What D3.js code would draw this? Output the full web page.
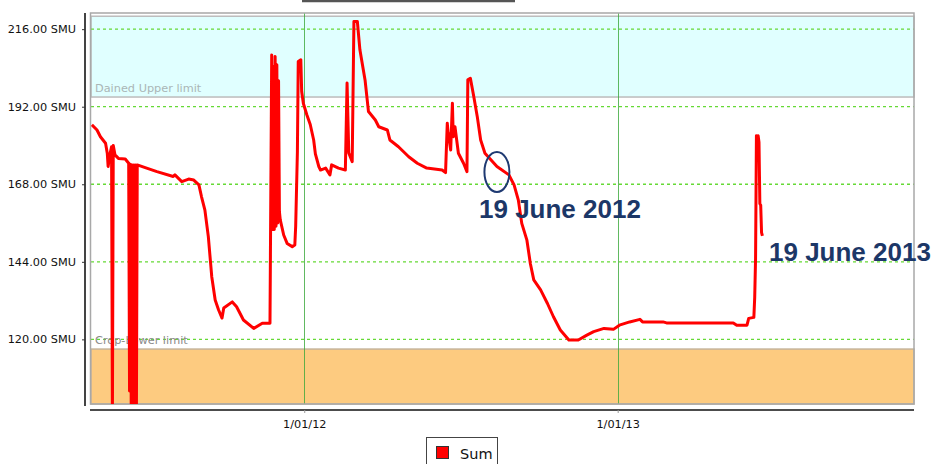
<html>
<head>
<meta charset="utf-8">
<script src="https://d3js.org/d3.v7.min.js"></script>
<style>
  body { margin: 0; background: #fff; }
  text { font-family: "DejaVu Sans", Verdana, sans-serif; }
  text.note { font-family: "Liberation Sans", Arial, sans-serif; font-weight: bold; }
</style>
</head>
<body></body>
<script>
// series: date / sum (SMU)
const dates = [
  "2011-04-28","2011-05-04","2011-05-08","2011-05-14","2011-05-16","2011-05-17","2011-05-19","2011-05-21",
  "2011-05-22","2011-05-23","2011-05-25","2011-05-29","2011-06-06","2011-06-10","2011-06-11","2011-06-12",
  "2011-06-13","2011-06-14","2011-06-15","2011-06-16","2011-06-17","2011-06-18","2011-06-19","2011-06-20",
  "2011-07-01","2011-07-13","2011-08-01","2011-08-03","2011-08-11","2011-08-19","2011-08-25","2011-08-31",
  "2011-09-03","2011-09-07","2011-09-11","2011-09-15","2011-09-19","2011-09-23","2011-09-27","2011-09-29",
  "2011-10-09","2011-10-14","2011-10-22","2011-11-03","2011-11-13","2011-11-22","2011-11-24","2011-11-25",
  "2011-11-26","2011-11-27","2011-11-28","2011-11-29","2011-11-30","2011-12-01","2011-12-02","2011-12-03",
  "2011-12-04","2011-12-08","2011-12-12","2011-12-18","2011-12-21","2011-12-22","2011-12-24","2011-12-25",
  "2011-12-28","2011-12-29","2011-12-31","2012-01-04","2012-01-08","2012-01-12","2012-01-14","2012-01-18",
  "2012-01-20","2012-01-26","2012-01-31","2012-02-02","2012-02-10","2012-02-18","2012-02-20","2012-02-22",
  "2012-02-26","2012-02-28","2012-03-03","2012-03-06","2012-03-12","2012-03-16","2012-03-24","2012-03-28",
  "2012-04-07","2012-04-10","2012-04-20","2012-05-02","2012-05-12","2012-05-23","2012-06-10","2012-06-14",
  "2012-06-16","2012-06-17","2012-06-20","2012-06-22","2012-06-23","2012-06-25","2012-06-29","2012-07-05",
  "2012-07-09","2012-07-10","2012-07-13","2012-07-17","2012-07-21","2012-07-25","2012-07-30","2012-08-13",
  "2012-08-27","2012-09-02","2012-09-07","2012-09-11","2012-09-17","2012-09-21","2012-09-25","2012-10-03",
  "2012-10-11","2012-10-18","2012-10-26","2012-11-05","2012-11-16","2012-11-26","2012-12-04","2012-12-16",
  "2012-12-27","2013-01-03","2013-01-15","2013-01-27","2013-01-30","2013-02-23","2013-02-27","2013-05-16",
  "2013-05-20","2013-06-01","2013-06-03","2013-06-09","2013-06-10","2013-06-11","2013-06-12","2013-06-13",
  "2013-06-14","2013-06-15","2013-06-16","2013-06-17","2013-06-18","2013-06-19"
];
const sums = [
  186.4,184.8,182.7,180.7,177.6,173.5,177.1,179.6,
  96,180,177.1,176,175.8,174.5,104,174.2,
  95,174,95,174,95,174,95,174,
  173,171.9,170.4,170.9,168.8,169.6,169.3,167.8,
  164.2,160,151.8,139.4,132.2,129.1,126.6,129.7,
  131.6,130.1,126,123.4,125,125,208,154,
  204.4,154,207.5,155,205,156,200,159.5,
  157,152.3,149.7,148.7,149.2,155,178,206,
  206.5,196.7,193,189.5,186.5,181.7,177.4,173.5,
  172.4,173,170.9,174,173,172.4,199.3,177.7,
  175,218.4,218.4,209.6,200.3,190.5,187.9,185.8,
  184.8,181.7,179.6,176.5,174.5,173,172.4,171.6,
  186.9,184,178.6,193.1,182.7,185.8,177.6,174.5,
  171.9,200.3,200.8,195.1,189,181.7,177.6,173.5,
  170.9,167.8,163.1,155.9,150.7,143.5,138.4,135.3,
  131.1,127,122.9,119.8,119.8,121.3,122.4,123.4,
  123.1,124.4,125.4,126.2,125.4,125.4,125.1,125.1,
  124.4,124.4,126.5,126.8,133,145,183,181.5,
  183,181,162,161.5,153,152
];
const yTicks = [120, 144, 168, 192, 216];
const xTicks = ["2012-01-01", "2013-01-01"];
const upperLimit = [195, 220];
const lowerLimit = [100, 117];
const bandLabels = ["Dained Upper limit", "Crop-Lower limit"];
const notes = [
  {text: "19 June 2012", date: "2012-08-13", value: 171.8},
  {text: "19 June 2013", date: "2013-06-19", value: 152}
];

const W = 932, H = 464;
const pLeft = 91, pRight = 914, pTop = 13, pBottom = 404;
const parse = d3.timeParse("%Y-%m-%d");

const x = d3.scaleTime()
  .domain([parse("2011-04-27"), parse("2013-12-13")])
  .range([pLeft, pRight]);
const y = d3.scaleLinear()
  .domain([100, 221])
  .range([pBottom, pTop]);

const svg = d3.select("body").append("svg")
  .attr("width", W).attr("height", H);

// cut-off title box at the very top
svg.append("line")
  .attr("x1", 302).attr("x2", 515).attr("y1", 1).attr("y2", 1)
  .attr("stroke", "#555").attr("stroke-width", 2.5);

// limit bands
svg.append("rect")
  .attr("x", pLeft).attr("width", pRight - pLeft)
  .attr("y", y(upperLimit[1])).attr("height", y(upperLimit[0]) - y(upperLimit[1]))
  .attr("fill", "#e0ffff").attr("stroke", "#bcbcbc").attr("stroke-width", 1.5);
svg.append("rect")
  .attr("x", pLeft).attr("width", pRight - pLeft)
  .attr("y", y(lowerLimit[1])).attr("height", y(lowerLimit[0]) - y(lowerLimit[1]))
  .attr("fill", "#fdcb80").attr("stroke", "#c6b49a").attr("stroke-width", 1.5);

// gridlines
svg.append("g").selectAll("line")
  .data(yTicks)
  .join("line")
    .attr("x1", pLeft).attr("x2", pRight)
    .attr("y1", d => y(d)).attr("y2", d => y(d))
    .attr("stroke", "#66d936").attr("stroke-width", 1.3)
    .attr("stroke-dasharray", "3,3");
svg.append("g").selectAll("line")
  .data(xTicks.map(parse))
  .join("line")
    .attr("x1", d => Math.round(x(d)) + 0.5).attr("x2", d => Math.round(x(d)) + 0.5)
    .attr("y1", pTop).attr("y2", pBottom)
    .attr("stroke", "#3aa83a").attr("stroke-opacity", 0.8);

// band labels
svg.append("text")
  .attr("x", 95).attr("y", 92)
  .attr("font-size", 11.3).attr("fill", "#aab6b6")
  .text(bandLabels[0]);
svg.append("text")
  .attr("x", 95).attr("y", 344)
  .attr("font-size", 11.3).attr("fill", "#8a8a8a")
  .text(bandLabels[1]);

// plot frame
svg.append("rect")
  .attr("x", pLeft - 0.5).attr("y", pTop)
  .attr("width", pRight - pLeft + 0.5).attr("height", pBottom - pTop)
  .attr("fill", "none").attr("stroke", "#a8a8a8").attr("stroke-width", 1.5);

// series line
svg.append("clipPath").attr("id", "plot")
  .append("rect")
  .attr("x", pLeft).attr("y", pTop + 1)
  .attr("width", pRight - pLeft).attr("height", pBottom - pTop - 1);

const series = dates.map((d, i) => ({date: parse(d), value: sums[i]}));
const line = d3.line()
  .x(d => x(d.date))
  .y(d => y(d.value));
svg.append("path")
  .datum(series)
  .attr("clip-path", "url(#plot)")
  .attr("d", line)
  .attr("fill", "none")
  .attr("stroke", "#ff0000")
  .attr("stroke-width", 3)
  .attr("stroke-linejoin", "round");

// y axis
const yAxis = svg.append("g")
  .attr("transform", "translate(85,0)")
  .call(d3.axisLeft(y).tickValues(yTicks)
    .tickFormat(d => d.toFixed(2) + " SMU")
    .tickSize(3).tickSizeOuter(0).tickPadding(6));
yAxis.select(".domain").attr("stroke", "#444").attr("stroke-width", 2)
  .attr("d", `M0,${pTop}V${pBottom + 2}`);
yAxis.selectAll(".tick line").attr("stroke", "#333");
yAxis.selectAll("text").attr("font-size", 11.3).attr("fill", "#111");

// x axis
const xAxis = svg.append("g")
  .attr("transform", "translate(0,410)")
  .call(d3.axisBottom(x).tickValues(xTicks.map(parse))
    .tickFormat(d3.timeFormat("%-d/%m/%y"))
    .tickSize(3).tickSizeOuter(0).tickPadding(7));
xAxis.select(".domain").attr("stroke", "#111").attr("stroke-width", 1.5)
  .attr("d", `M${pLeft - 1},0H${pRight}`);
xAxis.selectAll(".tick line").attr("stroke", "#999");
xAxis.selectAll("text").attr("font-size", 11.3).attr("fill", "#111");

// annotations
const n0 = notes[0];
svg.append("ellipse")
  .attr("cx", x(parse(n0.date))).attr("cy", y(n0.value))
  .attr("rx", 12.5).attr("ry", 20)
  .attr("fill", "none").attr("stroke", "#1f3a72").attr("stroke-width", 2);
svg.append("text")
  .attr("class", "note")
  .attr("x", 479).attr("y", 218)
  .attr("font-size", 26)
  .attr("fill", "#1c3767")
  .text(n0.text);
svg.append("text")
  .attr("class", "note")
  .attr("x", 769).attr("y", 261)
  .attr("font-size", 26)
  .attr("fill", "#1c3767")
  .text(notes[1].text);

// legend
const legend = svg.append("g").attr("transform", "translate(426.5,437.5)");
legend.append("rect")
  .attr("width", 71).attr("height", 30)
  .attr("fill", "#fff").attr("stroke", "#444");
legend.append("rect")
  .attr("x", 10).attr("y", 9).attr("width", 12).attr("height", 12)
  .attr("fill", "#ff0000").attr("stroke", "#333");
legend.append("text")
  .attr("x", 33.5).attr("y", 21.5)
  .attr("font-size", 14.5).attr("fill", "#111")
  .text("Sum");
</script>
</html>
